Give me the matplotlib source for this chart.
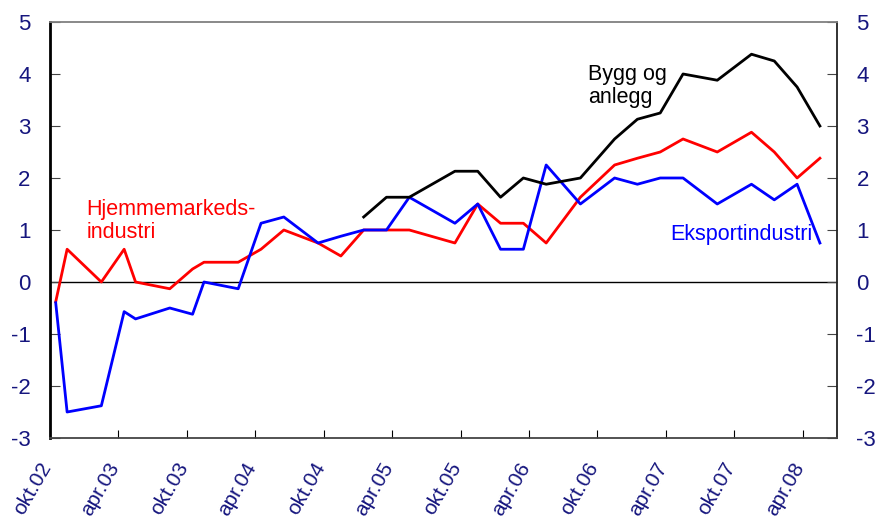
import numpy as np
import matplotlib
matplotlib.use("Agg")
import matplotlib.pyplot as plt
import matplotlib.transforms as mtransforms

plt.rcParams['font.family'] = ['Liberation Sans', 'DejaVu Sans']
plt.rcParams['axes.unicode_minus'] = False

# months after okt.02 (survey points)
months = [0.5, 1.5, 4.5, 6.5, 7.5, 10.5, 12.5, 13.5, 16.5, 18.5, 20.5,
          23.5, 25.5, 27.5, 29.5, 31.5, 35.5, 37.5, 39.5, 41.5, 43.5,
          46.5, 49.5, 51.5, 53.5, 55.5, 58.5, 61.5, 63.5, 65.5, 67.5]

hjemme = [-0.38, 0.63, 0.0, 0.63, 0.0, -0.13, 0.25, 0.38, 0.38, 0.63, 1.0,
          0.75, 0.5, 1.0, 1.0, 1.0, 0.75, 1.5, 1.13, 1.13, 0.75,
          1.63, 2.25, 2.38, 2.5, 2.75, 2.5, 2.88, 2.5, 2.0, 2.38]

eksport = [-0.4, -2.5, -2.38, -0.57, -0.71, -0.5, -0.62, 0.0, -0.13, 1.13, 1.25,
           0.75, 0.88, 1.0, 1.0, 1.63, 1.13, 1.5, 0.63, 0.63, 2.25,
           1.5, 2.0, 1.88, 2.0, 2.0, 1.5, 1.88, 1.58, 1.88, 0.75]

bygg_months = months[13:]
bygg = [1.25, 1.63, 1.63, 2.13, 2.13, 1.63, 2.0, 1.88,
        2.0, 2.75, 3.13, 3.25, 4.0, 3.88, 4.38, 4.25, 3.75, 3.0]

tick_pos = [0, 6, 12, 18, 24, 30, 36, 42, 48, 54, 60, 66]
tick_labels = ["okt.02", "apr.03", "okt.03", "apr.04", "okt.04", "apr.05",
               "okt.05", "apr.06", "okt.06", "apr.07", "okt.07", "apr.08"]

navy = "#16167e"

fig = plt.figure(figsize=(8.82, 5.21), dpi=100)
ax = fig.add_axes([0.0567, 0.1593, 0.8923, 0.7985])

ax.axhline(0, color="black", lw=1, zorder=1)
ax.plot(months, hjemme, color="#ff0000", lw=2)
ax.plot(months, eksport, color="#0000ff", lw=2)
ax.plot(bygg_months, bygg, color="black", lw=2)

ax.set_xlim(0, 69)
ax.set_ylim(-3, 5)
ax.set_yticks(range(-3, 6))
ax.set_xticks(tick_pos)
ax.set_xticklabels(tick_labels, rotation=60, ha="right", va="top")

ax.tick_params(axis="x", direction="in", length=6, pad=15, labelsize=15,
               labelcolor=navy, color="black")
ax.tick_params(axis="y", direction="in", length=7, pad=14, labelsize=16,
               labelcolor=navy, color="#444444", right=True, labelright=True)

# nudge the slanted date labels a little to the right
offset = mtransforms.ScaledTranslation(5 / 100, 0, fig.dpi_scale_trans)
for lbl in ax.get_xticklabels():
    lbl.set_transform(lbl.get_transform() + offset)

ax.spines["left"].set_linewidth(2)
ax.spines["left"].set_color("black")
ax.spines["right"].set_linewidth(1.3)
ax.spines["right"].set_color("#222222")
ax.spines["top"].set_linewidth(1.3)
ax.spines["top"].set_color("#808080")
ax.spines["bottom"].set_linewidth(1.3)
ax.spines["bottom"].set_color("#444444")

ax.text(3.2, 1.17, "Hjemmemarkeds-\nindustri", color="#ff0000", fontsize=15.5,
        ha="left", va="center", linespacing=1.1)
ax.text(47.2, 3.77, "Bygg og\nanlegg", color="black", fontsize=15.5,
        ha="left", va="center", linespacing=1.1)
ax.text(54.4, 0.92, "Eksportindustri", color="#0000ff", fontsize=15.5,
        ha="left", va="center")

fig.savefig("out.png", dpi=100)
